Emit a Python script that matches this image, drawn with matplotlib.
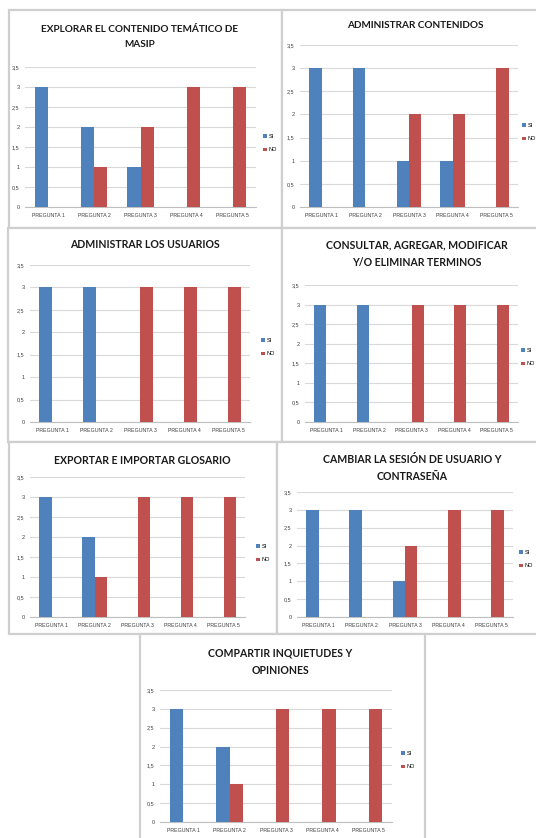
import matplotlib
matplotlib.use("Agg")
import matplotlib.pyplot as plt
from matplotlib.patches import Rectangle
import numpy as np

W, H = 536, 838

categories = ["PREGUNTA 1", "PREGUNTA 2", "PREGUNTA 3", "PREGUNTA 4", "PREGUNTA 5"]
series_names = ["SI", "NO"]
y_ticks = [0, 0.5, 1, 1.5, 2, 2.5, 3, 3.5]
y_tick_labels = ["0", "0,5", "1", "1,5", "2", "2,5", "3", "3,5"]

titles = [
    "EXPLORAR EL CONTENIDO TEMÁTICO DE\nMASIP",
    "ADMINISTRAR CONTENIDOS",
    "ADMINISTRAR LOS USUARIOS",
    "CONSULTAR, AGREGAR, MODIFICAR\nY/O ELIMINAR TERMINOS",
    "EXPORTAR E IMPORTAR GLOSARIO",
    "CAMBIAR LA SESIÓN DE USUARIO Y\nCONTRASEÑA",
    "COMPARTIR INQUIETUDES Y\nOPINIONES",
]

si_explorar = [3, 2, 1, 0, 0]
no_explorar = [0, 1, 2, 3, 3]
si_contenidos = [3, 3, 1, 1, 0]
no_contenidos = [0, 0, 2, 2, 3]
si_usuarios = [3, 3, 0, 0, 0]
no_usuarios = [0, 0, 3, 3, 3]
si_terminos = [3, 3, 0, 0, 0]
no_terminos = [0, 0, 3, 3, 3]
si_glosario = [3, 2, 0, 0, 0]
no_glosario = [0, 1, 3, 3, 3]
si_sesion = [3, 3, 1, 0, 0]
no_sesion = [0, 0, 2, 3, 3]
si_compartir = [3, 2, 0, 0, 0]
no_compartir = [0, 1, 3, 3, 3]

si_values = [si_explorar, si_contenidos, si_usuarios, si_terminos, si_glosario, si_sesion, si_compartir]
no_values = [no_explorar, no_contenidos, no_usuarios, no_terminos, no_glosario, no_sesion, no_compartir]

BLUE = "#4F81BD"
RED = "#C0504D"
GRID = "#D9D9D9"
BORDER = "#CFCFCF"
TXT = "#404040"
TITLE_FONT = ["Lato", "DejaVu Sans"]
SMALL_FONT = ["Liberation Sans", "DejaVu Sans"]

# layout in pixels: frame box, plot area (left, right, top, bottom), title centre, legend anchor
frames = [(9, 10, 282, 228), (282, 10, 540, 228), (8, 228, 282, 442), (282, 228, 540, 442),
          (9, 442, 277, 634), (277, 442, 540, 634), (140, 634, 425, 840)]
plots = [(25, 256, 67, 207), (300, 518, 45, 207), (30, 250, 265, 422), (305, 518, 285, 422),
         (30, 245, 477, 617), (297, 513, 492, 617), (160, 392, 690, 822)]
title_pos = [(140, 37), (415, 25), (145, 245), (417, 254), (142, 460), (412, 468), (280, 662)]
title_size = [7.2, 7.2, 7.6, 7.6, 7.6, 7.6, 7.6]
legend_pos = [(260, 143), (519, 132), (258, 347), (518, 357), (253, 553), (516, 559), (398, 760)]

fig = plt.figure(figsize=(W / 100, H / 100), dpi=100)
fig.patch.set_facecolor("white")

for (x0, y0, x1, y1) in frames:
    fig.add_artist(Rectangle((x0 / W, 1 - y1 / H), (x1 - x0) / W, (y1 - y0) / H,
                             transform=fig.transFigure, facecolor="white",
                             edgecolor=BORDER, linewidth=1.6, zorder=0))

x = np.arange(len(categories))
bw = 0.285
for i in range(7):
    l, r, t, b = plots[i]
    ax = fig.add_axes([l / W, 1 - b / H, (r - l) / W, (b - t) / H])
    ax.set_facecolor("none")
    ax.bar(x - bw / 2, si_values[i], bw, color=BLUE, linewidth=0, label=series_names[0], zorder=3)
    ax.bar(x + bw / 2, no_values[i], bw, color=RED, linewidth=0, label=series_names[1], zorder=3)
    ax.set_xlim(-0.5, 4.5)
    ax.set_ylim(0, 3.5)
    ax.set_yticks(y_ticks)
    ax.set_yticklabels(y_tick_labels, fontsize=4, color=TXT, family=SMALL_FONT)
    ax.set_xticks(x)
    ax.set_xticklabels(categories, fontsize=3.8, color=TXT, family=SMALL_FONT)
    ax.grid(axis="y", color=GRID, linewidth=0.8, zorder=0)
    ax.tick_params(length=0, pad=4)
    for s in ["top", "right"]:
        ax.spines[s].set_visible(False)
    ax.spines["left"].set_visible(False)
    ax.spines["bottom"].set_color("#BFBFBF")
    ax.spines["bottom"].set_linewidth(0.8)
    tx, ty = title_pos[i]
    fig.text(tx / W, 1 - ty / H, titles[i], ha="center", va="center", fontsize=title_size[i],
             fontweight="bold", family=TITLE_FONT, color="#1A1A1A", linespacing=1.75)
    lx, ly = legend_pos[i]
    ax.legend(loc="center left", bbox_to_anchor=(lx / W, 1 - ly / H),
              bbox_transform=fig.transFigure, frameon=False,
              handlelength=0.7, handleheight=0.7, handletextpad=0.4,
              labelspacing=1.6, borderpad=0, prop={"family": SMALL_FONT, "size": 4})

fig.savefig("out.png", dpi=100, facecolor="white")
